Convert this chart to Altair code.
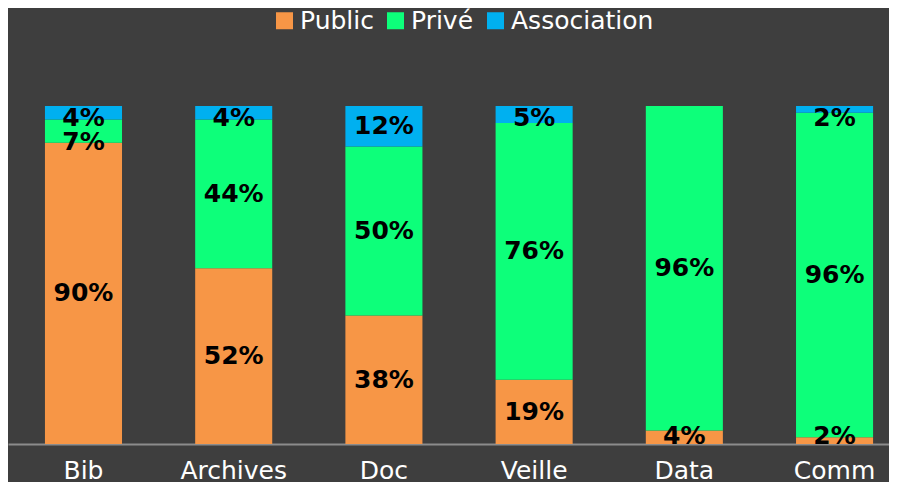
import altair as alt
import pandas as pd

categories = ["Bib", "Archives", "Doc", "Veille", "Data", "Comm"]
series = ["Public", "Privé", "Association"]
public = [90, 52, 38, 19, 4, 2]
prive = [7, 44, 50, 76, 96, 96]
association = [4, 4, 12, 5, 0, 2]
colors = ["#F79646", "#0DFF7A", "#00B0F0"]

rows = []
for i, c in enumerate(categories):
    for j, (s, vals) in enumerate(zip(series, [public, prive, association])):
        rows.append({"cat": c, "serie": s, "order": j, "value": vals[i]})
df = pd.DataFrame(rows)

base = alt.Chart(df).transform_stack(
    stack="value",
    groupby=["cat"],
    sort=[alt.SortField("order", "ascending")],
    as_=["y0", "y1"],
    offset="normalize",
).transform_calculate(
    mid="(datum.y0 + datum.y1) / 2",
    label="datum.value + '%'",
)

# keep labels inside the bars and clear of one another (like the original)
label_pos = base.transform_calculate(
    pos="datum.y1 >= 0.999 ? min(datum.mid, 0.964) : max(min(datum.mid, 0.894), 0.024)"
)

x = alt.X(
    "cat:N",
    sort=categories,
    scale=alt.Scale(paddingInner=0.487, paddingOuter=0.176, align=0.699),
    axis=alt.Axis(
        title=None,
        labelAngle=0,
        labelFont="DejaVu Sans",
        labelFontSize=25,
        labelColor="#ffffff",
        labelPadding=14,
        ticks=False,
        domainColor="#8c8c8c",
        domainWidth=2,
    ),
)

bars = base.mark_bar().encode(
    x=x,
    y=alt.Y("y0:Q", scale=alt.Scale(domain=[0, 1]), axis=None),
    y2="y1:Q",
    color=alt.Color(
        "serie:N",
        scale=alt.Scale(domain=series, range=colors),
        legend=alt.Legend(
            orient="none",
            legendX=264,
            legendY=-98,
            direction="horizontal",
            title=None,
            symbolType="square",
            symbolSize=289,
            symbolStrokeWidth=0,
            labelFont="DejaVu Sans",
            labelFontSize=25,
            labelColor="#ffffff",
            columnPadding=9,
            labelOffset=3,
            symbolOpacity=1,
        ),
    ),
)

texts = label_pos.transform_filter("datum.value > 0").mark_text(
    font="DejaVu Sans", fontWeight="bold", fontSize=25, color="black", baseline="middle"
).encode(
    x=x,
    y=alt.Y("pos:Q", scale=alt.Scale(domain=[0, 1]), axis=None),
    text="label:N",
)

chart = alt.layer(bars, texts).properties(
    width=881,
    height=338,
    autosize=alt.AutoSizeParams(type="none"),
    padding={"left": 0, "top": 98, "right": 0, "bottom": 38},
    background="#3e3e3e",
).configure_view(stroke=None)

chart.save("out.html", embed_options={"renderer": "svg", "actions": False})
